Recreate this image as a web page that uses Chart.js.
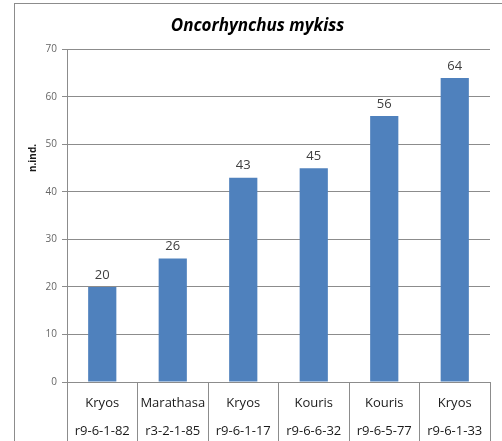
<!DOCTYPE html>
<html>
<head>
<meta charset="utf-8">
<script src="https://cdn.jsdelivr.net/npm/chart.js@4/dist/chart.umd.min.js"></script>
<style>
	html, body { margin: 0; padding: 0; background: #fff; overflow: hidden; }
	#frame { position: absolute; left: 14px; top: 3px; width: 487px; height: 460px; border: 1px solid #8c8c8c; }
	#chart { display: block; }
</style>
</head>
<body>
<div id="frame"><canvas id="chart" width="487" height="459"></canvas></div>
<script>
// data
var rivers = ["Kryos", "Marathasa", "Kryos", "Kouris", "Kouris", "Kryos"];
var stations = ["r9-6-1-82", "r3-2-1-85", "r9-6-1-17", "r9-6-6-32", "r9-6-5-77", "r9-6-1-33"];
var counts = [20, 26, 43, 45, 56, 64];
var yTicks = [0, 10, 20, 30, 40, 50, 60, 70];

var labels = [];
for (var i in rivers) {
	labels.push([rivers[i], stations[i]]);
}

// values on top of the bars
var valueLabels = {
	id: 'valueLabels',
	afterDatasetsDraw: function(chart) {
		var ctx = chart.ctx;
		var meta = chart.getDatasetMeta(0);
		ctx.save();
		ctx.font = '13px "Open Sans"';
		ctx.fillStyle = '#404040';
		ctx.textAlign = 'center';
		ctx.textBaseline = 'middle';
		meta.data.forEach(function(bar, i) {
			ctx.fillText(counts[i], bar.x, bar.y - 12);
		});
		ctx.restore();
	}
};

// y axis title, placed higher than centre like the original
var yTitle = {
	id: 'yTitle',
	afterDraw: function(chart) {
		var ctx = chart.ctx;
		ctx.save();
		ctx.translate(18, 154);
		ctx.rotate(-Math.PI / 2);
		ctx.font = 'bold 10px "Open Sans"';
		ctx.fillStyle = '#1a1a1a';
		ctx.textAlign = 'center';
		ctx.textBaseline = 'middle';
		ctx.fillText('n.ind.', 0, 0);
		ctx.restore();
	}
};

var ctx = document.getElementById('chart');
var barGraph = new Chart(ctx, {
	type: 'bar',
	data: {
		labels: labels,
		datasets: [{
			label: 'n.ind.',
			data: counts,
			backgroundColor: '#4F81BD',
			borderWidth: 0,
			barPercentage: 0.4,
			categoryPercentage: 1
		}]
	},
	options: {
		responsive: false,
		animation: false,
		events: [],
		layout: { padding: { left: 10, right: 12, top: 0, bottom: 21 } },
		plugins: {
			legend: { display: false },
			tooltip: { enabled: false },
			title: {
				display: true,
				text: 'Oncorhynchus mykiss',
				color: '#000',
				font: { family: '"Open Sans"', size: 17, weight: 'bold', style: 'italic' },
				padding: { top: 12, bottom: 13 }
			}
		},
		scales: {
			x: {
				afterFit: function(axis) {
					axis.height = 60;
				},
				grid: {
					offset: true,
					drawOnChartArea: false,
					tickLength: 60,
					color: '#8c8c8c'
				},
				border: { display: true, color: '#8c8c8c' },
				ticks: {
					padding: -53,
					color: '#1a1a1a',
					font: { family: '"Open Sans"', size: 13, lineHeight: '28px' },
					maxRotation: 0,
					autoSkip: false
				}
			},
			y: {
				min: 0,
				max: 70,
				afterBuildTicks: function(axis) {
					axis.ticks = yTicks.map(function(v) { return { value: v }; });
				},
				afterFit: function(axis) {
					axis.width = 42;
				},
				grid: { color: '#8c8c8c', tickLength: 5 },
				border: { display: true, color: '#8c8c8c' },
				ticks: {
					padding: 5,
					color: '#666',
					font: { family: '"Open Sans"', size: 10 }
				}
			}
		}
	},
	plugins: [valueLabels, yTitle]
});
</script>
</body>
</html>
